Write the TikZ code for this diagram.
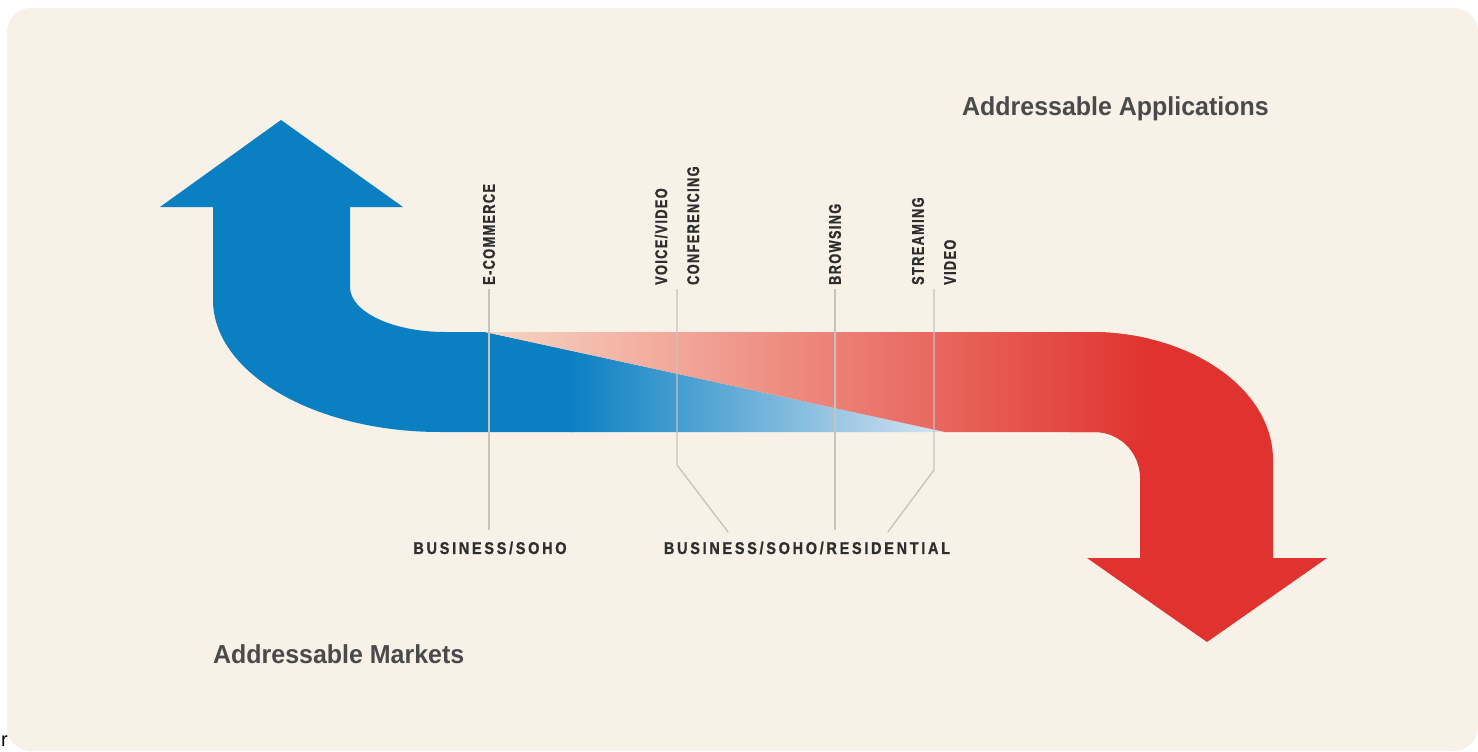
\documentclass[tikz,border=0pt]{standalone}
\usepackage{fontspec}
\setmainfont{Liberation Sans}
\newfontfamily\amTitleFont{Liberation Sans}[FakeStretch=0.96]
\newfontfamily\amAppFont{Liberation Sans}[FakeStretch=0.75, LetterSpace=8, FakeBold=1]
\newfontfamily\amMktFont{Liberation Sans}[FakeStretch=0.85, LetterSpace=16, FakeBold=1]
\usepackage{tikz}
\usetikzlibrary{
  positioning,
  calc
}
\definecolor{amBlue}{HTML}{0A80C2}
\definecolor{amBlueFade}{HTML}{D9E6F2}
\definecolor{amRed}{HTML}{E0332F}
\definecolor{amRedFade}{HTML}{F8D6C4}
\definecolor{amCream}{HTML}{F7F1E7}
\definecolor{amInk}{HTML}{4A4A4A}
\definecolor{amDark}{HTML}{2E2E2E}
\definecolor{amLead}{HTML}{C6C2BC}
\tikzset{
  backdrop/.style={fill=amCream, rounded corners=24pt},
  applabel/.style={
    font=\amAppFont\bfseries\fontsize{17}{32}\selectfont, text=amDark,
    rotate=90, anchor=west, align=left, inner sep=2pt
  },
  mktlabel/.style={
    font=\amMktFont\bfseries\fontsize{17}{20}\selectfont, text=amDark,
    inner sep=3pt
  },
  title/.style={
    font=\amTitleFont\bfseries\fontsize{26}{28}\selectfont, text=amInk,
    anchor=base west, inner sep=0pt
  },
  leader/.style={draw=amLead, line width=1.3pt, shorten <=2pt, shorten >=8pt},
  stray/.style={font=\fontsize{20}{20}\selectfont, anchor=base west, inner sep=0pt}
}

\begin{document}
\begin{tikzpicture}[x=1pt, y=-1pt]
  \useasboundingbox (0,0) rectangle (1478,752);
  \fill[backdrop] (7,8) rectangle (1478,751);

  % markets arrow, fading out to the right
  \begin{scope}
    \clip (281,120) -- (403,207) -- (350,207) -- (350,287)
      .. controls (350,312) and (393,332) .. (445,332) -- (485,332)
      -- (945,432) -- (440,432)
      .. controls (315,432) and (213,373) .. (213,300)
      -- (213,207) -- (160,207) -- cycle;
    \fill[amBlue] (150,110) rectangle (572,440);
    \shade[left color=amBlue, right color=amBlueFade] (570,320) rectangle (950,440);
  \end{scope}

  % applications arrow, fading in from the left
  \begin{scope}
    \clip (485,332) -- (1090,332)
      .. controls (1191,332) and (1273,389) .. (1273,460)
      -- (1273,558) -- (1327,558) -- (1207,642) -- (1087,558) -- (1140,558)
      -- (1140,478) .. controls (1140,453) and (1120,432) .. (1095,432)
      -- (945,432) -- cycle;
    \fill[amRed] (1070,320) rectangle (1340,650);
    \shade[left color=amRedFade, right color=amRed] (485,320) rectangle (1150,440);
  \end{scope}

  \node[applabel] (ecom)   at (489,287) {E-COMMERCE};
  \node[applabel] (voice)  at (677,287) {VOICE/VIDEO\\CONFERENCING};
  \node[applabel] (brow)   at (835,287) {BROWSING};
  \node[applabel] (stream) at (934,287) {STREAMING\\VIDEO};

  \node[mktlabel] (biz)  at (490,548) {BUSINESS/SOHO};
  \node[mktlabel] (resi) at (807,548) {BUSINESS/SOHO/RESIDENTIAL};

  \draw[leader] (ecom.west) -- (ecom.west |- biz.north);
  \draw[leader] (brow.west) -- (brow.west |- resi.north);
  \draw[leader] (voice.west) -- ++(0,178) -- ($(resi.north)+(-74,0)$);
  \draw[leader] (stream.west) -- ++(0,183) -- ($(resi.north)+(76,0)$);

  \node[title] (apps) at (962,115) {Addressable Applications};
  \node[title] (mkts) at (213,663) {Addressable Markets};

  \node[stray] (corner) at (1,746) {r};
\end{tikzpicture}
\end{document}
